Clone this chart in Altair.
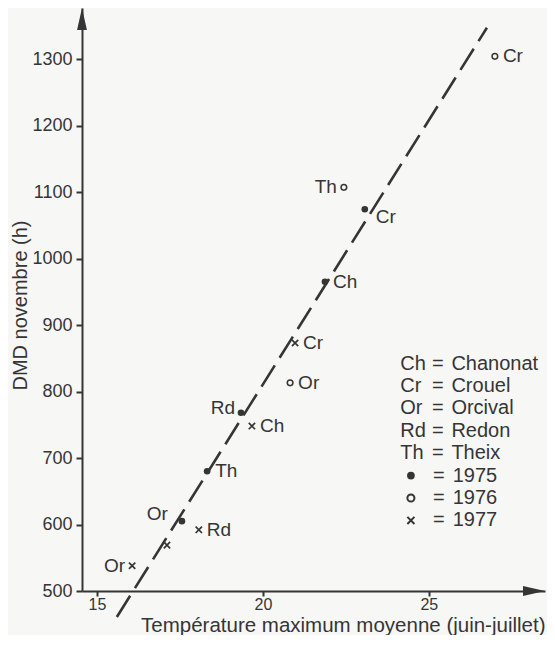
import altair as alt
import pandas as pd

# ---- data ----
site = ["Or", "", "Or", "Rd", "Th", "Rd", "Ch", "Cr", "Or", "Ch", "Cr", "Th", "Cr"]
year = ["1977", "1977", "1975", "1977", "1975", "1975", "1977", "1977", "1976", "1975", "1975", "1976", "1976"]
temp = [16.06, 17.11, 17.56, 18.07, 18.32, 19.34, 19.67, 20.97, 20.82, 21.87, 23.07, 22.44, 26.99]
dmd = [538, 569, 605, 592, 680, 768, 748, 873, 813, 965, 1074, 1107, 1304]
label_side = ["l", "none", "ul", "r", "r", "lu", "r", "r", "r", "r", "dr", "l", "r"]

line_temp = [15.60, 26.75]
line_dmd = [461, 1347]

x_ticks = [15, 20, 25]
y_ticks = [500, 600, 700, 800, 900, 1000, 1100, 1200, 1300]

legend_abbr = ["Ch", "Cr", "Or", "Rd", "Th"]
legend_name = ["Chanonat", "Crouel", "Orcival", "Redon", "Theix"]
legend_years = ["1975", "1976", "1977"]

# ---- styling ----
INK = "#353535"
BG = "#f7f7f5"
FONT = "Liberation Sans"
W, H = 463, 583

pts = pd.DataFrame({"site": site, "year": year, "temp": temp, "dmd": dmd, "side": label_side})
line_df = pd.DataFrame({"temp": line_temp, "dmd": line_dmd})

# legend rows placed in data space at the right of the plot
row_top, row_step = 842.0, 33.7
leg_sites = pd.DataFrame({
    "abbr": legend_abbr,
    "name": legend_name,
    "dmd": [row_top - row_step * i for i in range(len(legend_abbr))],
})
leg_years = pd.DataFrame({
    "year": legend_years,
    "dmd": [row_top - row_step * (i + len(legend_abbr)) for i in range(len(legend_years))],
})

xs = alt.Scale(domain=[14.55, 28.50], nice=False, zero=False)
ys = alt.Scale(domain=[500, 1376.7], nice=False, zero=False)

axis_common = dict(
    domainColor=INK, domainWidth=2, tickColor=INK, tickWidth=2,
    labelFont=FONT, labelColor=INK, labelFlush=False,
    titleFont=FONT, titleFontWeight="normal", titleColor=INK,
    grid=False, format="d",
)
X = alt.X("temp:Q", scale=xs, axis=alt.Axis(
    values=x_ticks, title="Température maximum moyenne (juin-juillet)",
    tickSize=5, labelPadding=0, labelFontSize=16,
    titleFontSize=20.5, titleX=W, titleY=40, titleAlign="right",
    titleBaseline="alphabetic", **axis_common))
Y = alt.Y("dmd:Q", scale=ys, axis=alt.Axis(
    values=y_ticks, title="DMD novembre (h)", tickSize=6, labelPadding=4, labelFontSize=18,
    titleFontSize=20, titleX=-62, titleY=297, titleAngle=270, titleAlign="center",
    titleBaseline="middle", **axis_common))

base = alt.Chart(pts)

line = alt.Chart(line_df).mark_line(
    color=INK, strokeWidth=2.6, strokeDash=[25, 9]
).encode(x=X, y=Y)

XPATH = "M-1,-1L1,1M-1,1L1,-1"

p75 = base.mark_point(shape="circle", filled=True, size=44, color=INK, opacity=1).encode(
    x=X, y=Y).transform_filter(alt.datum.year == "1975")
p76 = base.mark_point(shape="circle", filled=False, size=32, color=INK, strokeWidth=1.5, opacity=1).encode(
    x=X, y=Y).transform_filter(alt.datum.year == "1976")
p77 = base.mark_point(shape=XPATH, filled=False, size=40, color=INK, strokeWidth=1.7, opacity=1).encode(
    x=X, y=Y).transform_filter(alt.datum.year == "1977")

txt = dict(font=FONT, fontSize=19, color=INK, baseline="middle")
lab_r = base.mark_text(align="left", dx=8, **txt).encode(x=X, y=Y, text="site:N").transform_filter(alt.datum.side == "r")
lab_l = base.mark_text(align="right", dx=-7, **txt).encode(x=X, y=Y, text="site:N").transform_filter(alt.datum.side == "l")
lab_lu = base.mark_text(align="right", dx=-6, dy=-5, **txt).encode(x=X, y=Y, text="site:N").transform_filter(alt.datum.side == "lu")
lab_ul = base.mark_text(align="right", dx=-14, dy=-7, **txt).encode(x=X, y=Y, text="site:N").transform_filter(alt.datum.side == "ul")
lab_dr = base.mark_text(align="left", dx=11, dy=8, **txt).encode(x=X, y=Y, text="site:N").transform_filter(alt.datum.side == "dr")

# legend
ltxt = dict(font=FONT, fontSize=20, color=INK, baseline="middle")
lx = alt.X("temp:Q", scale=xs)
ls = alt.Chart(leg_sites)
leg_abbr = ls.mark_text(align="left", **ltxt).encode(x=lx, y=Y, text="abbr:N").transform_calculate(temp="24.14")
leg_eq = ls.mark_text(align="center", **ltxt).encode(x=lx, y=Y, text=alt.value("=")).transform_calculate(temp="25.27")
leg_name = ls.mark_text(align="left", **ltxt).encode(x=lx, y=Y, text="name:N").transform_calculate(temp="25.68")

ly = alt.Chart(leg_years)
leg_s75 = ly.mark_point(shape="circle", filled=True, size=60, color=INK, opacity=1).encode(
    x=lx, y=Y).transform_filter(alt.datum.year == "1975").transform_calculate(temp="24.46")
leg_s76 = ly.mark_point(shape="circle", filled=False, size=50, color=INK, strokeWidth=2, opacity=1).encode(
    x=lx, y=Y).transform_filter(alt.datum.year == "1976").transform_calculate(temp="24.46")
leg_s77 = ly.mark_point(shape=XPATH, filled=False, size=50, color=INK, strokeWidth=2, opacity=1).encode(
    x=lx, y=Y).transform_filter(alt.datum.year == "1977").transform_calculate(temp="24.46")
leg_yeq = ly.mark_text(align="center", **ltxt).encode(x=lx, y=Y, text=alt.value("=")).transform_calculate(temp="25.30")
leg_ytxt = ly.mark_text(align="left", **ltxt).encode(x=lx, y=Y, text="year:N").transform_calculate(temp="25.72")

# axis arrowheads
one = alt.Data(values=[{"a": 1}])
arrow_up = alt.Chart(one).mark_point(
    shape="M0,-1L0.45,1L-0.45,1Z", filled=True, size=484, color=INK, opacity=1, strokeWidth=0
).encode(x=alt.value(0), y=alt.value(11))
arrow_right = alt.Chart(one).mark_point(
    shape="M1,0L-1,0.45L-1,-0.45Z", filled=True, size=484, color=INK, opacity=1, strokeWidth=0
).encode(x=alt.value(W - 11), y=alt.value(H))

chart = alt.layer(
    line, p75, p76, p77, lab_r, lab_l, lab_lu, lab_ul, lab_dr,
    leg_abbr, leg_eq, leg_name, leg_s75, leg_s76, leg_s77, leg_yeq, leg_ytxt,
    arrow_up, arrow_right,
).properties(
    width=W, height=H,
    autosize=alt.AutoSizeParams(type="none"),
    padding={"left": 74, "top": 0, "right": 2, "bottom": 44},
    background=BG,
).configure_view(stroke=None)

chart.save("out.html", embed_options={"renderer": "svg", "actions": False})
